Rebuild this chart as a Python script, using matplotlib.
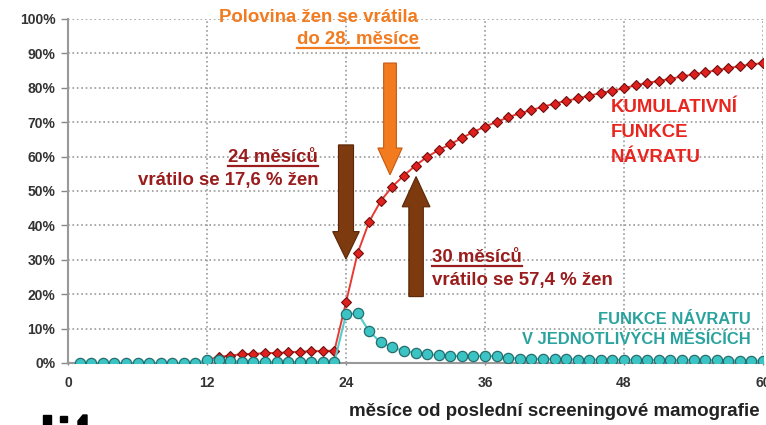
import matplotlib
matplotlib.use("Agg")
import matplotlib.pyplot as plt
from matplotlib.patches import FancyArrow, Polygon, Rectangle
from matplotlib.lines import Line2D
from matplotlib.ticker import FuncFormatter

plt.rcParams['font.family'] = ['Liberation Sans', 'DejaVu Sans']

# monthly return (% of women) for months 1..60
months = list(range(1, 61))
monthly = [0, 0, 0, 0, 0, 0, 0, 0, 0, 0, 0,
           0.8, 1.0, 0.5, 0.4, 0.3, 0.3, 0.3, 0.3, 0.3, 0.3, 0.3, 0.3,
           14.1, 14.5, 9.2, 6.0, 4.6, 3.4, 3.0, 2.5, 2.3, 2.1, 2.0, 2.0,
           2.1, 1.9, 1.5, 1.3, 1.2, 1.2, 1.1, 1.1, 1.0, 1.0, 1.0, 0.9,
           1.0, 0.9, 0.9, 0.9, 0.8, 0.8, 0.8, 0.8, 0.8, 0.7, 0.7, 0.7, 0.7]

# cumulative return (%) for months 12..60
cum_months = list(range(12, 61))
cumulative = [0.8, 1.8, 2.1, 2.6, 2.6, 2.9, 2.9, 3.1, 3.3, 3.4, 3.5, 3.6,
              17.6, 31.9, 41.1, 47.1, 51.3, 54.5, 57.4, 59.9, 61.9, 63.6, 65.4, 67.2,
              68.7, 70.1, 71.4, 72.6, 73.5, 74.5, 75.4, 76.2, 76.9, 77.7, 78.5, 79.1,
              79.9, 80.7, 81.4, 82.0, 82.6, 83.3, 83.9, 84.5, 85.1, 85.7, 86.3, 86.8, 87.2]

x_ticks = [0, 12, 24, 36, 48, 60]
y_ticks = list(range(0, 101, 10))

W, H = 766, 425
fig = plt.figure(figsize=(W / 100, H / 100), dpi=100)
ax = fig.add_axes([68 / W, 1 - 363 / H, (763 - 68) / W, (363 - 19) / H])

red_dark = '#9a1c1c'
orange = '#f27b1f'
brown = '#7c3a0e'
teal = '#2aa39e'
red = '#e8261f'

ax.plot(cum_months, cumulative, color='#e83a32', lw=1.4, marker='D', ms=4.9,
        mfc='#e0201c', mec='#6e1010', mew=0.8, zorder=3)
ax.plot(months, monthly, color='#55cccc', lw=1.5, marker='o', ms=7.4,
        mfc='#3cc3c3', mec='#246e6e', mew=0.9, zorder=4)

ax.set_xlim(0, 60)
ax.set_ylim(0, 100)
ax.set_xticks(x_ticks)
ax.set_yticks(y_ticks)
ax.yaxis.set_major_formatter(FuncFormatter(lambda v, p: f'{v:.0f}%'))
for lab in ax.get_xticklabels() + ax.get_yticklabels():
    lab.set_fontweight('bold')
ax.tick_params(axis='y', length=5, width=1, color='#888888', labelsize=10, labelcolor='#333333', pad=4)
ax.tick_params(axis='x', length=3, width=1, color='#888888', labelsize=10, labelcolor='#333333',
               pad=8, direction='inout')
ax.grid(True, color='#999999', linestyle=':', linewidth=1.2)
ax.set_axisbelow(True)
for s in ['top', 'right']:
    ax.spines[s].set_visible(False)
ax.spines['left'].set_color('#999999')
ax.spines['left'].set_linewidth(1.5)
ax.spines['bottom'].set_color('#999999')
ax.spines['bottom'].set_linewidth(1.5)

fig.text(760 / W, 1 - 411 / H, 'měsíce od poslední screeningové mamografie', ha='right', va='center',
         fontsize=13.5, fontweight='bold', color='#222222')

# arrows (data coords)
ax.add_patch(FancyArrow(24, 63.4, 0, -33.2, width=1.3, head_width=2.3, head_length=8.0,
                        length_includes_head=True, fc=brown, ec='#5a2608', lw=0.8, zorder=5))
ax.add_patch(FancyArrow(27.8, 87.2, 0, -32.5, width=1.1, head_width=2.1, head_length=7.8,
                        length_includes_head=True, fc=orange, ec='#c85a10', lw=0.8, zorder=5))
ax.add_patch(FancyArrow(30.05, 19.3, 0, 34.9, width=1.25, head_width=2.4, head_length=8.8,
                        length_includes_head=True, fc=brown, ec='#5a2608', lw=0.8, zorder=5))

fs = 13.4
texts_ul = []
fig.text(318 / W, 1 - 18 / H, 'Polovina žen se vrátila', ha='center', va='center',
         fontsize=fs, fontweight='bold', color=orange)
t = fig.text(358 / W, 1 - 40 / H, 'do 28. měsíce', ha='center', va='center',
             fontsize=fs, fontweight='bold', color=orange)
texts_ul.append(t)
t = fig.text(318 / W, 1 - 158 / H, '24 měsíců', ha='right', va='center',
             fontsize=fs, fontweight='bold', color=red_dark)
texts_ul.append(t)
fig.text(318 / W, 1 - 181 / H, 'vrátilo se 17,6 % žen', ha='right', va='center',
         fontsize=fs, fontweight='bold', color=red_dark)
t = fig.text(432 / W, 1 - 258 / H, '30 měsíců', ha='left', va='center',
             fontsize=fs, fontweight='bold', color=red_dark)
texts_ul.append(t)
fig.text(432 / W, 1 - 281 / H, 'vrátilo se 57,4 % žen', ha='left', va='center',
         fontsize=fs, fontweight='bold', color=red_dark)

for i, line in enumerate(['KUMULATIVNÍ', 'FUNKCE', 'NÁVRATU']):
    fig.text(611 / W, 1 - (108 + 24.5 * i) / H, line, ha='left', va='center',
             fontsize=fs, fontweight='bold', color=red)
fig.text(751 / W, 1 - 319 / H, 'FUNKCE NÁVRATU', ha='right', va='center',
         fontsize=11.9, fontweight='bold', color=teal)
fig.text(751 / W, 1 - 339 / H, 'V JEDNOTLIVÝCH MĚSÍCÍCH', ha='right', va='center',
         fontsize=11.9, fontweight='bold', color=teal)

# underline selected texts
fig.canvas.draw()
r = fig.canvas.get_renderer()
for t in texts_ul:
    bb = t.get_window_extent(renderer=r)
    y = (bb.y0 + 1.0) / H
    fig.add_artist(Line2D([bb.x0 / W, bb.x1 / W], [y, y], color=t.get_color(), lw=1.6))

# cropped logo remnants at bottom left
fig.add_artist(Rectangle((42.7 / W, 0), 8 / W, 10 / H, transform=fig.transFigure, color='black'))
fig.add_artist(Rectangle((60 / W, 1 - 421.7 / H), 7.3 / W, 6 / H, transform=fig.transFigure, color='black'))
fig.add_artist(Polygon([(78 / W, 0), (87 / W, 0), (87 / W, 10 / H), (83 / W, 10 / H), (78 / W, 4 / H)],
                       closed=True, transform=fig.transFigure, color='black'))

fig.savefig('out.png', dpi=100)
